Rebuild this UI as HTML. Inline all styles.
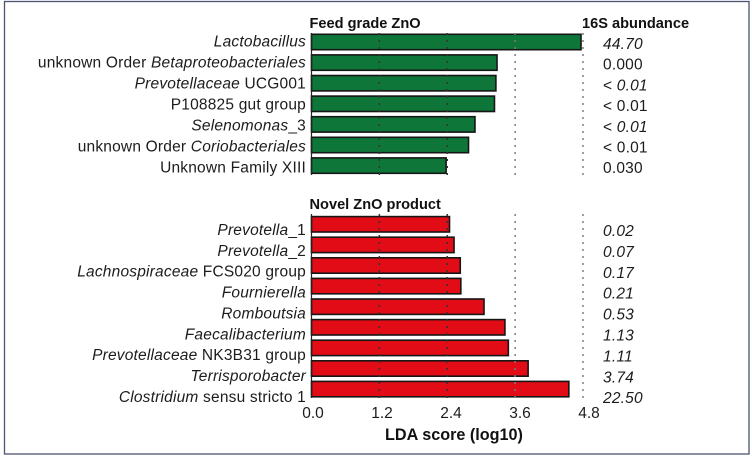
<!DOCTYPE html>
<html lang="en">
<head>
<meta charset="utf-8">
<title>LDA score chart</title>
<style>
html,body{margin:0;padding:0;background:#fff;width:752px;height:458px;overflow:hidden}
svg{display:block}
text{font-family:"Liberation Sans",sans-serif;fill:#1c1c1c}
.lab{font-size:15.5px;letter-spacing:0.2px}
.hd{font-size:14.6px;font-weight:bold;fill:#111}
.tick{font-size:15.5px}
.ttl{font-size:16.2px;font-weight:bold;fill:#111}
</style>
</head>
<body>
<svg id="chart" width="752" height="458" viewBox="0 0 752 458" xmlns="http://www.w3.org/2000/svg">
<rect x="4.5" y="1.5" width="744.5" height="452.5" fill="#fff" stroke="#4c5570" stroke-width="1.3"/>
<text class="hd" x="309.5" y="28">Feed grade ZnO</text>
<text class="hd" x="582" y="28">16S abundance</text>
<text class="hd" x="309.5" y="209">Novel ZnO product</text>
<text class="ttl" x="454" y="440" text-anchor="middle">LDA score (log10)</text>
<g id="bars"></g>
<g id="grid"></g>
<g id="labels"></g>
<g id="ticks"></g>
</svg>
<script>
// Markup segments: [text, italic?]
var feedLabels = [
  [["Lactobacillus",1]],
  [["unknown Order ",0],["Betaproteobacteriales",1]],
  [["Prevotellaceae",1],[" UCG001",0]],
  [["P108825 gut group",0]],
  [["Selenomonas",1],["_3",0]],
  [["unknown Order ",0],["Coriobacteriales",1]],
  [["Unknown Family XIII",0]]
];
var feedScores = [4.765, 3.28, 3.26, 3.235, 2.89, 2.776, 2.38];
var feedAbundance = [
  [["44.70",1]],
  [["0.000",0]],
  [["< ",0],["0.01",1]],
  [["< 0.01",0]],
  [["< ",0],["0.01",1]],
  [["< 0.01",0]],
  [["0.030",0]]
];
var novelLabels = [
  [["Prevotella",1],["_1",0]],
  [["Prevotella",1],["_2",0]],
  [["Lachnospiraceae",1],[" FCS020 group",0]],
  [["Fournierella",1]],
  [["Romboutsia",1]],
  [["Faecalibacterium",1]],
  [["Prevotellaceae",1],[" NK3B31 group",0]],
  [["Terrisporobacter",1]],
  [["Clostridium",1],[" sensu stricto 1",0]]
];
var novelScores = [2.44, 2.52, 2.63, 2.64, 3.05, 3.42, 3.48, 3.83, 4.55];
var novelAbundance = [
  [["0.02",1]],[["0.07",1]],[["0.17",1]],[["0.21",1]],[["0.53",1]],
  [["1.13",1]],[["1.11",1]],[["3.74",1]],[["22.50",1]]
];
var tickValues = [0, 1.2, 2.4, 3.6, 4.8];
var tickLabels = ["0.0", "1.2", "2.4", "3.6", "4.8"];

var NS = "http://www.w3.org/2000/svg";
function xScale(v){ return 311.5 + v * 56.56; }
function tickLabelX(v){ return 313 + v * 57.5; }

function mk(tag, attrs, parent){
  var el = document.createElementNS(NS, tag);
  for (var k in attrs) el.setAttribute(k, attrs[k]);
  parent.appendChild(el);
  return el;
}
function fillText(el, parts){
  parts.forEach(function(p){
    var t = mk("tspan", {"font-style": p[1] ? "italic" : "normal"}, el);
    t.textContent = p[0];
  });
  el.setAttribute("style", "white-space:pre");
}

var gBars = document.getElementById("bars");
var gGrid = document.getElementById("grid");
var gLabels = document.getElementById("labels");
var gTicks = document.getElementById("ticks");

function drawGroup(labels, scores, abund, top, pitch, fill, base, abBase, abPitch, labPitch){
  scores.forEach(function(s, i){
    var y = top + i * pitch;
    var bar = mk("rect", {x: xScale(0), y: y, width: xScale(s) - xScale(0), height: 15.4, fill: fill, stroke: "#161616", "stroke-width": 1.6}, gBars);
    
    
    var lab = mk("text", {"class": "lab", x: 306, y: base + i * labPitch, "text-anchor": "end"}, gLabels);
    
    
    fillText(lab, labels[i]);
    var ab = mk("text", {"class": "lab", x: 603, y: abBase + i * abPitch}, gLabels);
    
    
    fillText(ab, abund[i]);
  });
}
drawGroup(feedLabels, feedScores, feedAbundance, 34.3, 20.6, "#0e7639", 46.7, 49, 20.7, 21);
drawGroup(novelLabels, novelScores, novelAbundance, 216.6, 20.6, "#e20c17", 235, 236, 20.9, 20.85);

tickValues.forEach(function(v, i){
  [[33, 175], [214, 398]].forEach(function(r){
    var line = mk("line", {x1: xScale(v), x2: xScale(v), y1: r[0], y2: r[1], stroke: i === 0 ? "#222" : (i < 3 ? "#333" : "#7d7d7d"), "stroke-width": i === 0 ? 1.2 : 1.5, "stroke-dasharray": i === 0 ? "none" : "2 5"}, gGrid);
    
    
  });
  var t = mk("text", {"class": "tick", x: tickLabelX(v), y: 418, "text-anchor": "middle"}, gTicks);
  
  
  t.textContent = tickLabels[i];
});
</script>
</body>
</html>
